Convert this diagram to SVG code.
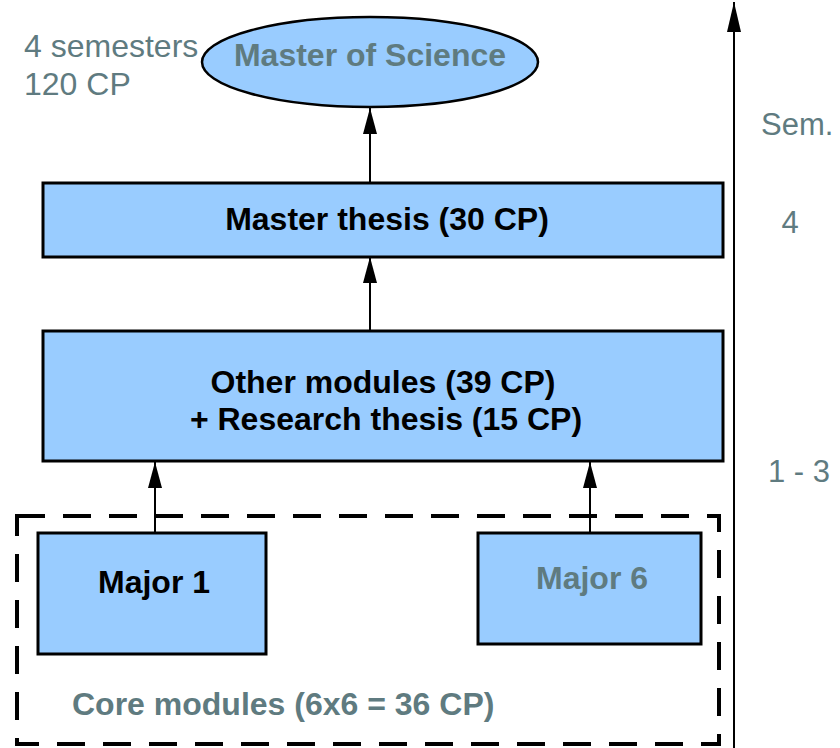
<svg xmlns="http://www.w3.org/2000/svg" width="840" height="748" viewBox="0 0 840 748">
  <style>
    .box { fill: #99ccff; stroke: #000; stroke-width: 3; }
    .ell { fill: #99ccff; stroke: #000; stroke-width: 2.5; }
    .lbl { font-family: "Liberation Sans", Arial, sans-serif; font-size: 32px; font-weight: bold; fill: #000; text-anchor: middle; }
    .gray { fill: #5f7b80; }
    .note { font-family: "Liberation Sans", Arial, sans-serif; font-size: 31px; fill: #5f7b80; }
    .big { font-size: 32px; }
    .conn { stroke: #000; stroke-width: 2; fill: none; }
    .dash { fill: none; stroke: #000; stroke-width: 4; stroke-dasharray: 28 18; }
  </style>
  <defs>
    <marker id="arr" markerUnits="userSpaceOnUse" markerWidth="26" markerHeight="14" refX="26" refY="7" orient="auto">
      <path d="M0,0 L26,7 L0,14 z" fill="#000"/>
    </marker>
    <marker id="arrBig" markerUnits="userSpaceOnUse" markerWidth="30" markerHeight="14" refX="30" refY="7" orient="auto">
      <path d="M0,0 L30,7 L0,14 z" fill="#000"/>
    </marker>
  </defs>

  <g id="core-group">
    <rect class="dash" x="17" y="516" width="702" height="228"/>
    <text class="lbl gray" x="72" y="715" style="text-anchor:start">Core modules (6x6 = 36 CP)</text>
  </g>

  <g id="msc">
    <ellipse class="ell" cx="370" cy="62" rx="168" ry="45"/>
    <text class="lbl gray" x="370" y="66">Master of Science</text>
  </g>

  <g id="duration">
    <text class="note big" x="24" y="57">4 semesters</text>
    <text class="note big" x="24" y="95">120 CP</text>
  </g>

  <g id="thesis">
    <rect class="box" x="43" y="183" width="680" height="74"/>
    <text class="lbl" x="387" y="230">Master thesis (30 CP)</text>
  </g>

  <g id="other">
    <rect class="box" x="43" y="331" width="680" height="130"/>
    <text class="lbl" x="383" y="393">Other modules (39 CP)</text>
    <text class="lbl" x="386" y="430">+ Research thesis (15 CP)</text>
  </g>

  <g id="major1">
    <rect class="box" x="38" y="533" width="228" height="121"/>
    <text class="lbl" x="154" y="593">Major 1</text>
  </g>

  <g id="major6">
    <rect class="box" x="478" y="533" width="223" height="111"/>
    <text class="lbl gray" x="592" y="589">Major 6</text>
  </g>

  <g id="semester-axis">
    <text class="note" x="761" y="135">Sem.</text>
    <text class="note" x="790" y="233" style="text-anchor:middle">4</text>
    <text class="note" x="799" y="482" style="text-anchor:middle">1 - 3</text>
  </g>

  <g id="connectors">
    <line class="conn" x1="370" y1="183" x2="370" y2="108" marker-end="url(#arr)"/>
    <line class="conn" x1="370" y1="331" x2="370" y2="257" marker-end="url(#arr)"/>
    <line class="conn" x1="155" y1="533" x2="155" y2="462" marker-end="url(#arr)"/>
    <line class="conn" x1="590" y1="533" x2="590" y2="462" marker-end="url(#arr)"/>
    <line class="conn" x1="734" y1="748" x2="734" y2="2" marker-end="url(#arrBig)"/>
  </g>
</svg>
